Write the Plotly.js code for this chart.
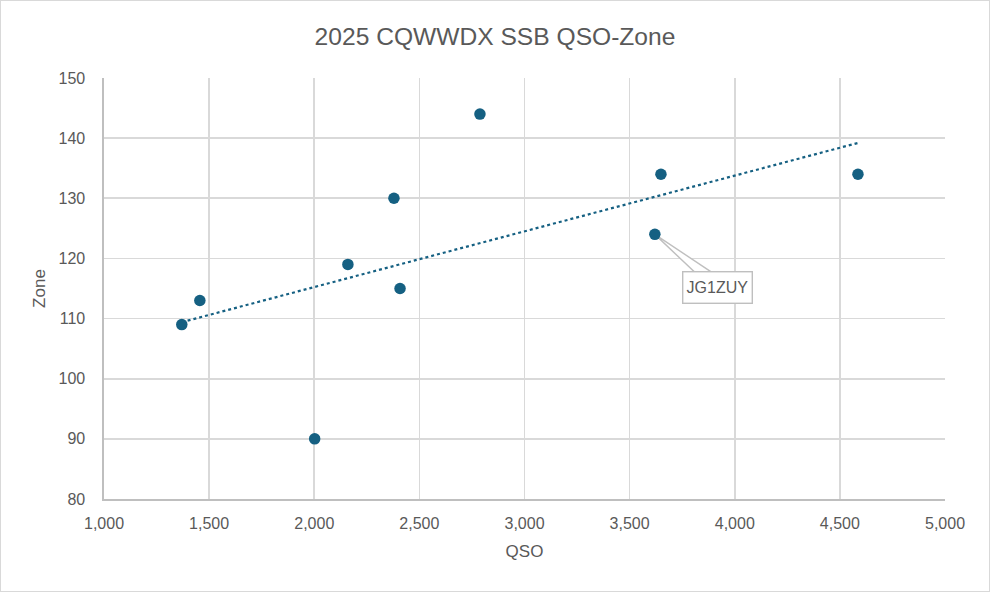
<!DOCTYPE html>
<html>
<head>
<meta charset="utf-8">
<script src="https://cdn.plot.ly/plotly-3.0.1.min.js"></script>
<style>
    body { margin: 0; background: #ffffff; }
    #grafico { width: 988px; height: 590px; border: 1px solid #d9d9d9; }
</style>
</head>
<body>
<div id="grafico"></div>
<script>
// Datos (QSO vs Zone)
const qso = [1370, 1456, 2002, 2160, 2379, 2408, 2788, 3620, 3649, 4586];
const zone = [109, 113, 90, 119, 130, 115, 144, 124, 134, 134];

// Linea de tendencia (extremos)
const trendQso = [1370, 4586];
const trendZone = [109.4, 139.2];

// Etiqueta del punto destacado
const etiquetaTexto = "JG1ZUY";
const etiquetaQso = 3620;
const etiquetaZone = 124;

// Tick labels
const xTicks = [1000, 1500, 2000, 2500, 3000, 3500, 4000, 4500, 5000];
const yTicks = [80, 90, 100, 110, 120, 130, 140, 150];

const colorPunto = "#156082";
const colorTexto = "#595959";
const fuente = "Liberation Sans, Arial, sans-serif";

var puntos = {
    x: qso,
    y: zone,
    type: 'scatter',
    mode: 'markers',
    marker: { color: colorPunto, size: 11.5 },
    hoverinfo: 'x+y',
    showlegend: false
};

var tendencia = {
    x: trendQso,
    y: trendZone,
    type: 'scatter',
    mode: 'lines',
    line: { color: colorPunto, width: 2.2, dash: 'dot' },
    hoverinfo: 'skip',
    showlegend: false
};

var layout = {
    width: 988,
    height: 590,
    margin: { l: 103, r: 44, t: 77, b: 92 },
    paper_bgcolor: '#ffffff',
    plot_bgcolor: '#ffffff',
    font: { family: fuente, color: colorTexto, size: 16 },
    title: {
        text: "2025 CQWWDX SSB QSO-Zone",
        font: { size: 24.6, color: colorTexto },
        x: 0.5,
        xref: 'container',
        xanchor: 'center',
        y: 1 - 35 / 590,
        yref: 'container',
        yanchor: 'middle'
    },
    xaxis: {
        range: [1000, 5000],
        tickvals: xTicks,
        tickformat: ',d',
        showgrid: true,
        gridcolor: '#d9d9d9',
        gridwidth: 1.6,
        zeroline: false,
        showline: true,
        linecolor: '#bfbfbf',
        linewidth: 1.6,
        ticks: '',
        ticklabelstandoff: 9,
        tickfont: { size: 16, color: colorTexto },
        title: { text: "QSO", font: { size: 17, color: colorTexto }, standoff: 14 }
    },
    yaxis: {
        range: [80, 150],
        tickvals: yTicks,
        showgrid: true,
        gridcolor: '#d9d9d9',
        gridwidth: 1.6,
        zeroline: false,
        showline: true,
        linecolor: '#bfbfbf',
        linewidth: 1.6,
        ticks: '',
        ticklabelstandoff: 14,
        tickfont: { size: 16, color: colorTexto },
        title: { text: "Zone", font: { size: 17, color: colorTexto }, standoff: 8 }
    },
    // cuña del globo que apunta al punto
    shapes: [{
        type: 'path',
        xref: 'x', yref: 'y',
        xsizemode: 'pixel', ysizemode: 'pixel',
        xanchor: etiquetaQso, yanchor: etiquetaZone,
        path: 'M0,0 L40,-38 L57,-38 Z',
        fillcolor: '#ffffff',
        line: { color: '#bfbfbf', width: 1.4 },
        layer: 'between'
    }],
    annotations: [{
        x: etiquetaQso,
        y: etiquetaZone,
        xref: 'x', yref: 'y',
        text: etiquetaTexto,
        showarrow: true,
        arrowcolor: 'rgba(0,0,0,0)',
        ax: 63,
        ay: 53,
        width: 64,
        height: 26,
        font: { size: 16, color: colorTexto },
        bgcolor: '#ffffff',
        bordercolor: '#bfbfbf',
        borderwidth: 1.4,
        borderpad: 2
    }]
};

Plotly.newPlot('grafico', [tendencia, puntos], layout, { displayModeBar: false, staticPlot: true });
</script>
</body>
</html>
